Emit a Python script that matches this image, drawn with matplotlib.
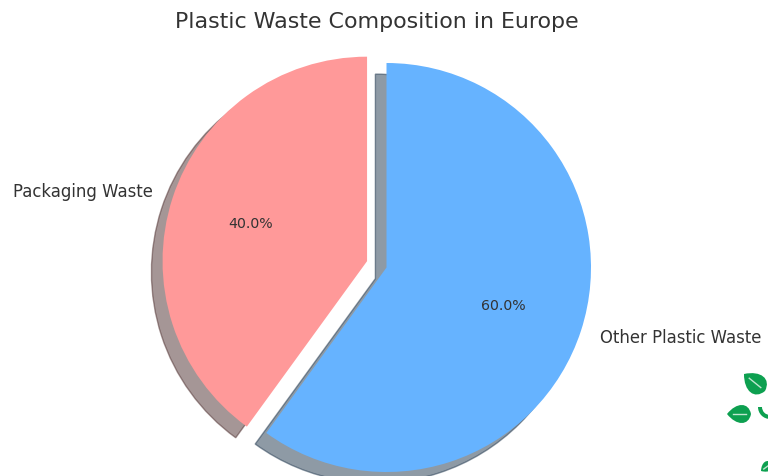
import numpy as np
import matplotlib.pyplot as plt
from matplotlib.patches import PathPatch, Wedge
from matplotlib.path import Path
from matplotlib.transforms import Affine2D

labels = ['Packaging Waste', 'Other Plastic Waste']
sizes = [40, 60]
explode = [0.1, 0]
colors = ['#ff9999', '#66b3ff']

# logo leaves in the lower right corner: tip, base (picture pixels)
leaf_tips = [(744, 375), (727, 415), (761, 472)]
leaf_bases = [(765, 392), (751, 415), (772, 464)]
logo_green = '#0da050'

W, H = 768, 477
R = 204.5


def add_leaf(ax, tip, base):
    # lens shape from tip to base, y flipped from picture pixels
    x0, y0 = tip[0], H - tip[1]
    x1, y1 = base[0], H - base[1]
    L = np.hypot(x1 - x0, y1 - y0)
    verts = [(0, 0), (0.4*L, 0.5*L), (0.9*L, 0.5*L), (L, 0),
             (0.9*L, -0.5*L), (0.4*L, -0.5*L), (0, 0)]
    codes = [Path.MOVETO, Path.CURVE4, Path.CURVE4, Path.CURVE4,
             Path.CURVE4, Path.CURVE4, Path.CURVE4]
    tr = Affine2D().rotate(np.arctan2(y1 - y0, x1 - x0)).translate(x0, y0)
    ax.add_patch(PathPatch(Path(verts, codes), transform=tr + ax.transData,
                           fc=logo_green, ec='none', zorder=5))
    ax.plot([x0 + 0.25*(x1-x0), x0 + 0.8*(x1-x0)], [y0 + 0.25*(y1-y0), y0 + 0.8*(y1-y0)],
            color='#bfe6cf', lw=1, zorder=6)


fig = plt.figure(figsize=(7.68, 4.77), dpi=100)
ax = fig.add_axes([0, 0, 1, 1])

# pie takes explode in data units, here pixels
wedges, texts, autotexts = ax.pie(sizes, explode=[e*R for e in explode], labels=labels, colors=colors,
                                  autopct='%1.1f%%', startangle=90,
                                  shadow={'ox': -8, 'oy': -8},
                                  radius=R, center=(386.5, H - 268.5), frame=False,
                                  textprops={'fontsize': 11.9, 'color': '#333333'})
for t in autotexts:
    t.set_fontsize(10.2)
# pie picks the alignment from the sign of x, which the shifted centre spoils
texts[0].set_ha('right')
texts[0].set_position((153, H - 192))
ax.set_xlim(0, W)
ax.set_ylim(0, H)
ax.set_aspect('equal')
ax.axis('off')

ax.text(376.5, H - 22.5, 'Plastic Waste Composition in Europe', ha='center', va='center',
        fontsize=15.9, color='#333333')

for tip, base in zip(leaf_tips, leaf_bases):
    add_leaf(ax, tip, base)
# curved stroke of the logo
ax.add_patch(Wedge((770, H - 408), 12, 180, 270, width=4, fc=logo_green, ec='none', zorder=5))

plt.savefig('out.png', dpi=100)
